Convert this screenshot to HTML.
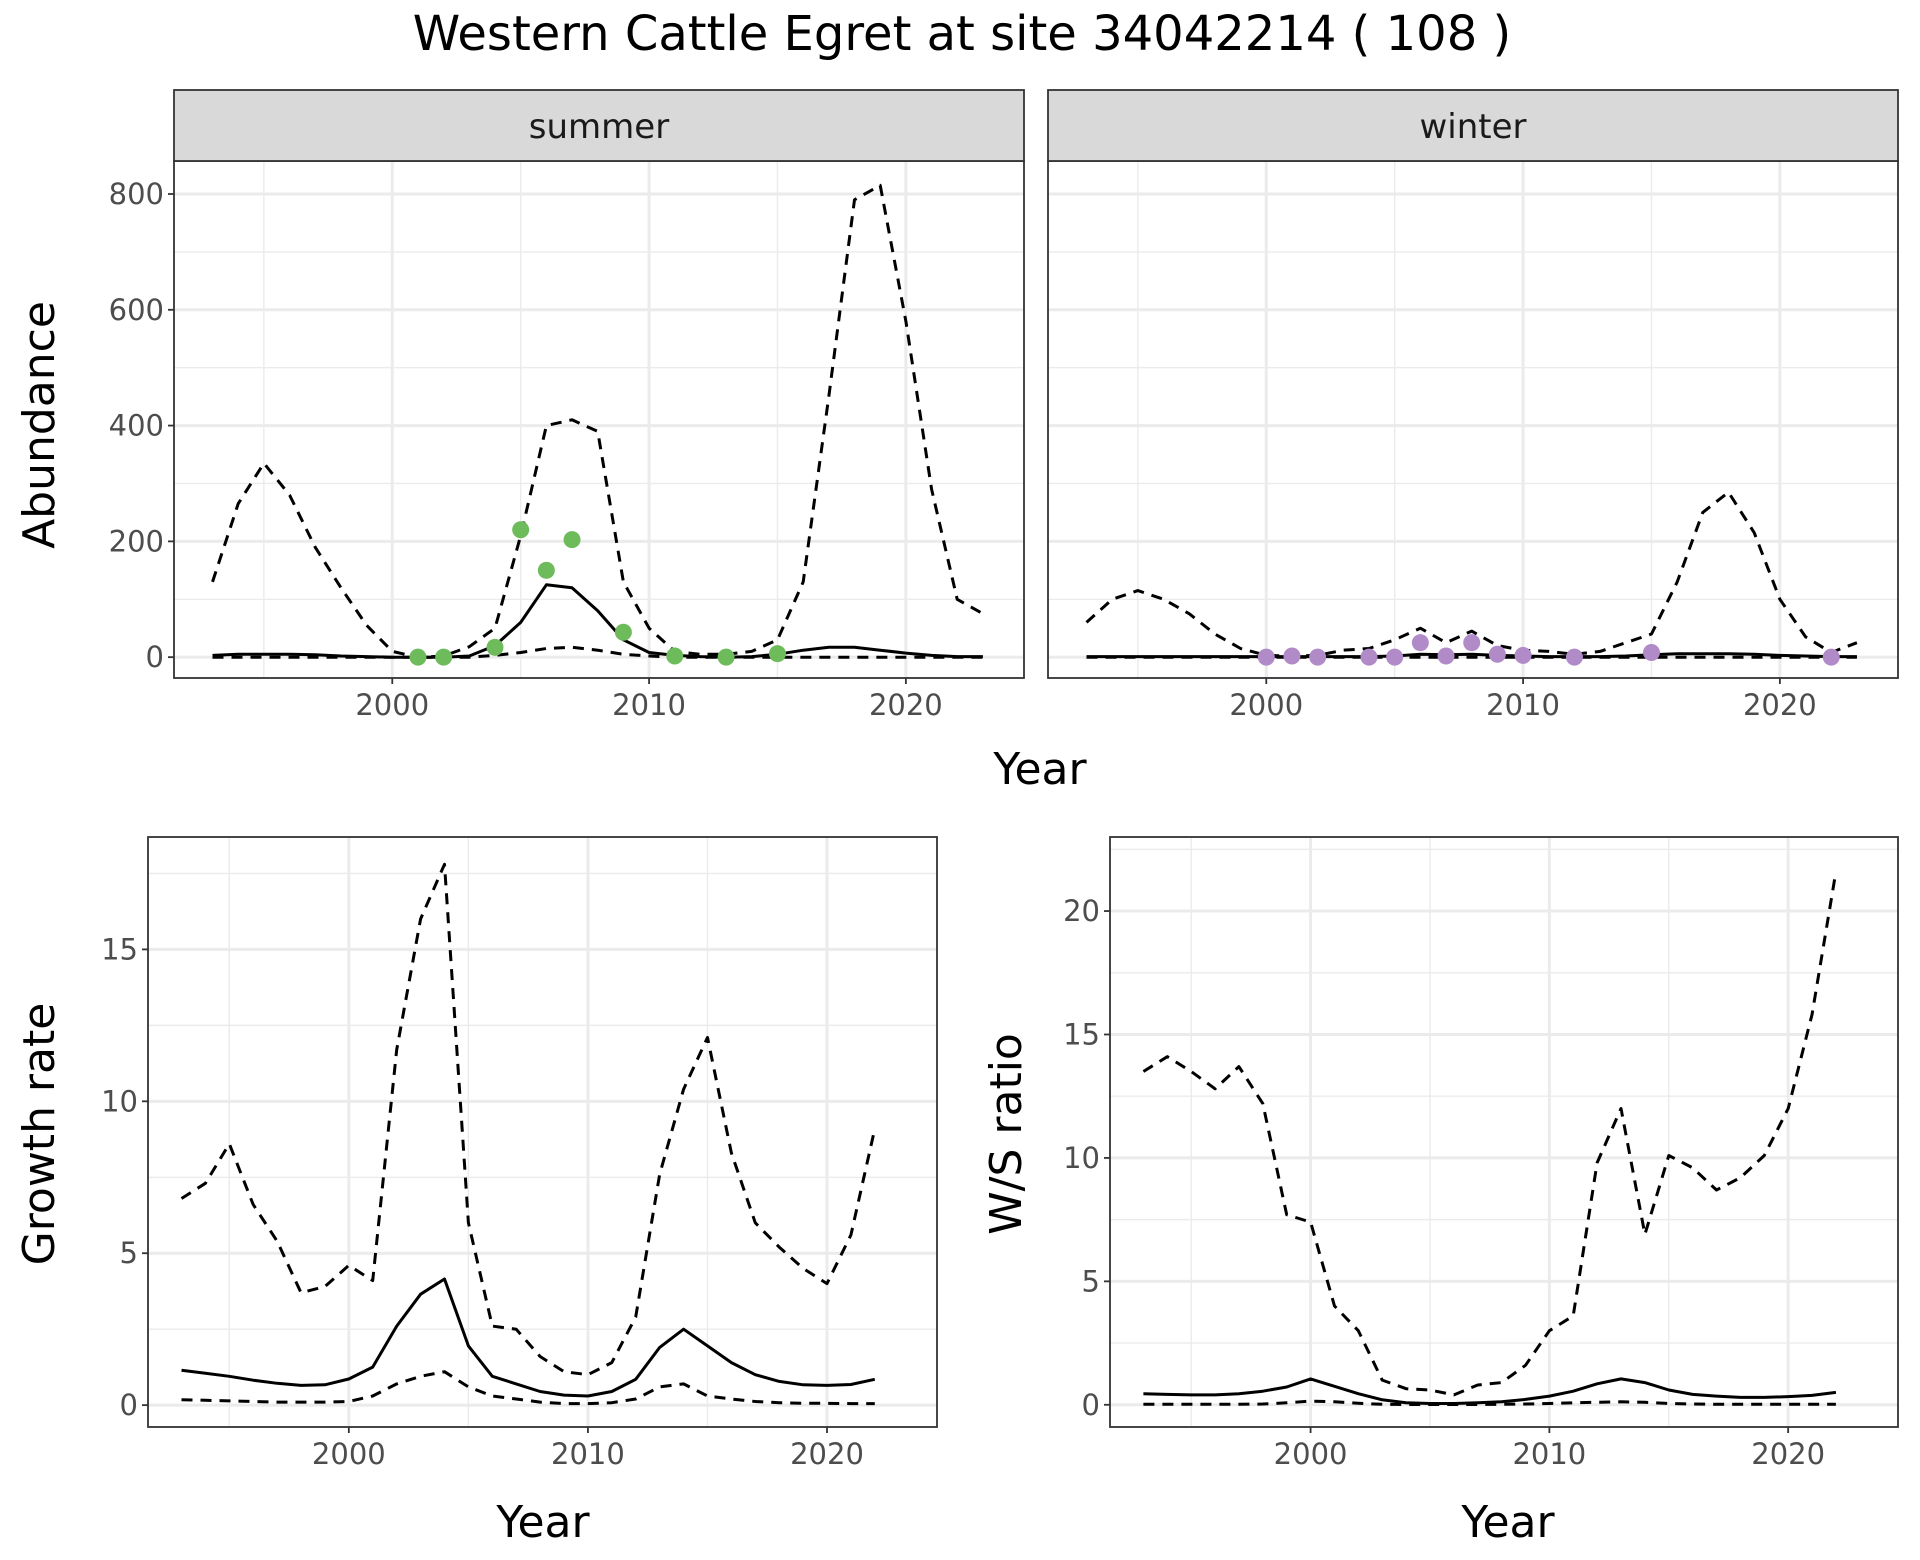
<!DOCTYPE html>
<html><head><meta charset="utf-8"><style>
body{margin:0;background:#fff;}
svg{display:block;font-family:"DejaVu Sans","Liberation Sans",sans-serif;}
</style></head><body>
<svg id="c" width="1920" height="1560" viewBox="0 0 1920 1560">
<text x="962" y="50" font-size="48" text-anchor="middle" fill="#000">Western Cattle Egret at site 34042214 ( 108 )</text>
</svg>
<script>
const absYears=[1993,1994,1995,1996,1997,1998,1999,2000,2001,2002,2003,2004,2005,2006,2007,2008,2009,2010,2011,2012,2013,2014,2015,2016,2017,2018,2019,2020,2021,2022,2023];
const sumUpper=[130,265,335,280,190,120,55,10,0,2,18,50,210,400,410,390,130,50,10,5,5,10,30,130,450,790,815,580,290,100,75];
const sumMean=[3,5,5,5,4,2,1,0,0,0,2,20,60,125,120,80,30,8,3,1,0,1,5,12,17,17,12,7,3,1,1];
const sumLower=[0,0,0,0,0,0,0,0,0,0,0,3,8,15,17,12,5,2,0,0,0,0,0,0,0,0,0,0,0,0,0];
const sumPtYears=[2001,2002,2004,2005,2006,2007,2009,2011,2013,2015];
const sumPtVals=[0,0,17,220,150,203,43,2,0,6];
const winUpper=[60,100,115,100,75,40,15,3,2,3,12,15,30,50,25,45,20,12,10,5,10,25,40,130,250,285,215,100,35,8,25];
const winMean=[1,1,1,1,1,1,1,1,1,1,1,1,2,5,4,5,3,2,1,1,1,2,4,6,6,6,5,3,2,1,1];
const winLower=[0,0,0,0,0,0,0,0,0,0,0,0,0,0,0,0,0,0,0,0,0,0,0,0,0,0,0,0,0,0,0];
const winPtYears=[2000,2001,2002,2004,2005,2006,2007,2008,2009,2010,2012,2015,2022];
const winPtVals=[0,2,0,0,0,25,2,25,5,3,0,8,0];
const grYears=[1993,1994,1995,1996,1997,1998,1999,2000,2001,2002,2003,2004,2005,2006,2007,2008,2009,2010,2011,2012,2013,2014,2015,2016,2017,2018,2019,2020,2021,2022];
const grUpper=[6.8,7.3,8.6,6.6,5.4,3.7,3.9,4.6,4.1,11.7,16.0,17.8,6.0,2.6,2.5,1.6,1.1,1.0,1.4,2.9,7.6,10.4,12.1,8.3,6.0,5.2,4.5,4.0,5.6,9.1];
const grMean=[1.15,1.05,0.95,0.82,0.72,0.65,0.67,0.86,1.25,2.6,3.65,4.15,1.95,0.95,0.7,0.45,0.33,0.3,0.45,0.85,1.9,2.5,1.95,1.4,1.0,0.78,0.67,0.65,0.68,0.85];
const grLower=[0.18,0.16,0.14,0.12,0.1,0.1,0.1,0.12,0.3,0.7,0.95,1.1,0.6,0.3,0.2,0.1,0.05,0.05,0.08,0.2,0.6,0.7,0.3,0.2,0.12,0.08,0.06,0.06,0.05,0.05];
const wsUpper=[13.5,14.1,13.5,12.8,13.7,12.2,7.7,7.4,4.0,3.0,1.0,0.65,0.6,0.4,0.8,0.9,1.6,3.0,3.6,9.8,12.0,6.9,10.1,9.6,8.7,9.2,10.1,12.0,15.8,21.6];
const wsMean=[0.45,0.42,0.4,0.4,0.45,0.55,0.72,1.05,0.75,0.45,0.2,0.08,0.05,0.05,0.08,0.12,0.22,0.35,0.55,0.85,1.05,0.9,0.6,0.42,0.35,0.3,0.3,0.33,0.38,0.5];
const wsLower=[0.02,0.02,0.02,0.02,0.02,0.03,0.08,0.15,0.12,0.06,0.02,0.01,0.01,0.01,0.01,0.02,0.03,0.05,0.08,0.1,0.12,0.1,0.05,0.03,0.02,0.02,0.02,0.02,0.02,0.02];
const xTicks=[2000,2010,2020];
const xMinor=[1995,2005,2015];
const absTicks=[0,200,400,600,800];
const absMinor=[100,300,500,700];
const grTicks=[0,5,10,15];
const grMinor=[2.5,7.5,12.5,17.5];
const wsTicks=[0,5,10,15,20];
const wsMinor=[2.5,7.5,12.5,17.5,22.5];

const NS="http://www.w3.org/2000/svg";
const svg=document.getElementById('c');
function mk(tag,attrs,parent){const e=document.createElementNS(NS,tag);for(const k in attrs)e.setAttribute(k,attrs[k]);(parent||svg).appendChild(e);return e;}

function panel(o){
  const g=mk('g',{});
  
  
  const x=v=>o.x0+(v-o.xmin)/(o.xmax-o.xmin)*(o.x1-o.x0);
  const y=v=>o.y1-(v-o.ymin)/(o.ymax-o.ymin)*(o.y1-o.y0);
  mk('rect',{x:o.x0,y:o.y0,width:o.x1-o.x0,height:o.y1-o.y0,fill:'#fff'},g);
  o.yMinor.forEach(v=>mk('line',{x1:o.x0,x2:o.x1,y1:y(v),y2:y(v),stroke:'#ebebeb','stroke-width':1.4},g));
  o.xMinorT.forEach(v=>mk('line',{x1:x(v),x2:x(v),y1:o.y0,y2:o.y1,stroke:'#ebebeb','stroke-width':1.4},g));
  o.yTicks.forEach(v=>mk('line',{x1:o.x0,x2:o.x1,y1:y(v),y2:y(v),stroke:'#ebebeb','stroke-width':3},g));
  o.xTicksT.forEach(v=>mk('line',{x1:x(v),x2:x(v),y1:o.y0,y2:o.y1,stroke:'#ebebeb','stroke-width':3},g));
  o.series.forEach(s=>{
    const d=s.vals.map((v,i)=>(i?'L':'M')+x(s.years[i]).toFixed(1)+','+y(v).toFixed(1)).join(' ');
    const p=mk('path',{d:d,fill:'none',stroke:'#000','stroke-width':3,'stroke-linejoin':'round'},g);
    if(s.dash)p.setAttribute('stroke-dasharray','11,8');
    
    
  });
  if(o.pts){o.pts.years.forEach((yr,i)=>{
    const c=mk('circle',{cx:x(yr),cy:y(o.pts.vals[i]),r:8.5,fill:o.pts.color},g);
    
    
  });}
  mk('rect',{x:o.x0,y:o.y0,width:o.x1-o.x0,height:o.y1-o.y0,fill:'none',stroke:'#333','stroke-width':1.8},g);
  if(o.showY){o.yTicks.forEach(v=>{
    mk('line',{x1:o.x0-6,x2:o.x0,y1:y(v),y2:y(v),stroke:'#333','stroke-width':1.8},g);
    const t=mk('text',{x:o.x0-10,y:y(v)+10,'font-size':29,'text-anchor':'end',fill:'#4d4d4d'},g);t.textContent=v;
    
    
  });}
  o.xTicksT.forEach(v=>{
    mk('line',{x1:x(v),x2:x(v),y1:o.y1,y2:o.y1+6,stroke:'#333','stroke-width':1.8},g);
    const t=mk('text',{x:x(v),y:o.y1+37,'font-size':29,'text-anchor':'middle',fill:'#4d4d4d'},g);t.textContent=v;
    
    
  });
  if(o.strip){
    mk('rect',{x:o.x0,y:o.y0-71,width:o.x1-o.x0,height:71,fill:'#d9d9d9',stroke:'#333','stroke-width':1.8},g);
    const t=mk('text',{x:(o.x0+o.x1)/2,y:o.y0-23,'font-size':34,'text-anchor':'middle',fill:'#1a1a1a'},g);t.textContent=o.strip;
    
    
  }
}
function label(txt,x,y,rot,name){
  const t=mk('text',{x:x,y:y,'font-size':44,'text-anchor':'middle',fill:'#000'});
  if(rot)t.setAttribute('transform','rotate(-90 '+x+' '+y+')');
  t.textContent=txt;
  
  
}
const absBase={xmin:1991.5,xmax:2024.6,y0:161,y1:678,ymin:-36,ymax:857,yTicks:absTicks,yMinor:absMinor,xTicksT:xTicks,xMinorT:xMinor};
panel(Object.assign({},absBase,{name:'summer-panel',x0:174,x1:1024,showY:true,strip:'summer',
  series:[{years:absYears,vals:sumUpper,dash:true,name:'summer-upper-ci'},{years:absYears,vals:sumMean,name:'summer-mean'},{years:absYears,vals:sumLower,dash:true,name:'summer-lower-ci'}],
  pts:{years:sumPtYears,vals:sumPtVals,color:'#6dbb5a'}}));
panel(Object.assign({},absBase,{name:'winter-panel',x0:1048,x1:1898,showY:false,strip:'winter',
  series:[{years:absYears,vals:winUpper,dash:true,name:'winter-upper-ci'},{years:absYears,vals:winMean,name:'winter-mean'},{years:absYears,vals:winLower,dash:true,name:'winter-lower-ci'}],
  pts:{years:winPtYears,vals:winPtVals,color:'#b08bc8'}}));
panel({name:'growth-rate-panel',x0:148,x1:937,y0:837,y1:1427,xmin:1991.6,xmax:2024.6,ymin:-0.72,ymax:18.7,yTicks:grTicks,yMinor:grMinor,xTicksT:xTicks,xMinorT:xMinor,showY:true,
  series:[{years:grYears,vals:grUpper,dash:true,name:'growth-upper-ci'},{years:grYears,vals:grMean,name:'growth-mean'},{years:grYears,vals:grLower,dash:true,name:'growth-lower-ci'}]});
panel({name:'ws-ratio-panel',x0:1110,x1:1898,y0:837,y1:1427,xmin:1991.6,xmax:2024.6,ymin:-0.9,ymax:23.0,yTicks:wsTicks,yMinor:wsMinor,xTicksT:xTicks,xMinorT:xMinor,showY:true,
  series:[{years:grYears,vals:wsUpper,dash:true,name:'ws-upper-ci'},{years:grYears,vals:wsMean,name:'ws-mean'},{years:grYears,vals:wsLower,dash:true,name:'ws-lower-ci'}]});
label('Year',1040,784,false,'top-x-axis-title');
label('Abundance',54,425,true,'abundance-y-axis-title');
label('Year',543,1537,false,'growth-x-axis-title');
label('Growth rate',54,1134,true,'growth-y-axis-title');
label('Year',1508,1537,false,'ws-x-axis-title');
label('W/S ratio',1021,1134,true,'ws-y-axis-title');
</script>
</body></html>
